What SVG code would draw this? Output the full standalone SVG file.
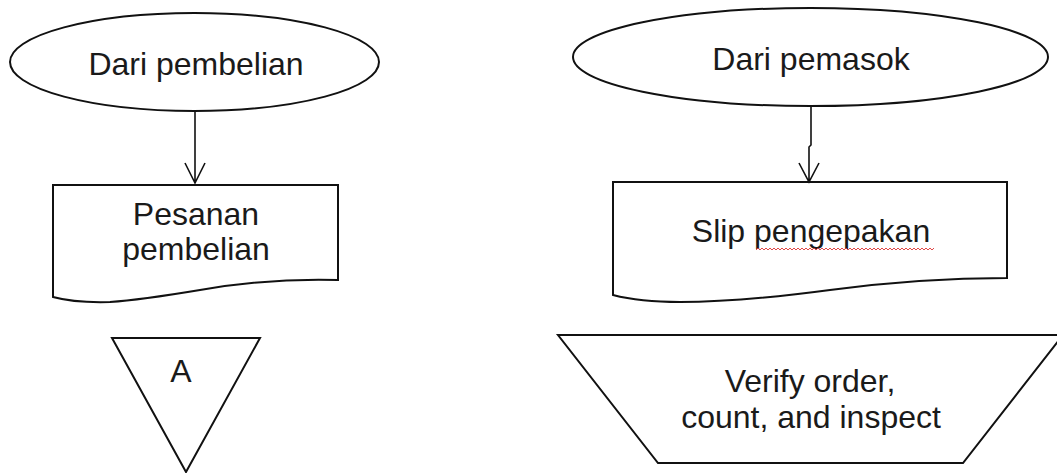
<svg xmlns="http://www.w3.org/2000/svg" width="1057" height="473" viewBox="0 0 1057 473">
<style>
.s{fill:#fff;stroke:#111;stroke-width:2}
.t{font-family:"Liberation Sans",Arial,sans-serif;font-size:32px;fill:#1a1a1a;text-anchor:middle}
.c{fill:none;stroke:#111;stroke-width:1.6}
</style>
<rect width="1057" height="473" fill="#fff"/>
<g id="dari-pembelian">
<ellipse class="s" cx="194.5" cy="62" rx="184.5" ry="49"/>
<text class="t" x="196" y="75">Dari pembelian</text>
</g>
<g id="pesanan-pembelian">
<path class="s" d="M53,185 H338 V280 Q270,278 200,290 Q140,300 110,302 Q75,303 53,297 Z"/>
<text class="t" x="196" y="225">Pesanan</text>
<text class="t" x="196" y="260">pembelian</text>
</g>
<g id="connector-a">
<path class="s" d="M112,338 H260 L186,472 Z"/>
<text class="t" x="181" y="382">A</text>
</g>
<g id="dari-pemasok">
<ellipse class="s" cx="810.5" cy="57" rx="237.5" ry="49"/>
<text class="t" x="811" y="70">Dari pemasok</text>
</g>
<g id="slip-pengepakan">
<path class="s" d="M613,182 H1007 V278 Q920,278 830,290 Q740,302 680,302 Q640,302 613,295 Z"/>
<text class="t" x="811" y="242">Slip pengepakan</text>
<path d="M756,250 l2,-2 l2,2 l2,-2 l2,2 l2,-2 l2,2 l2,-2 l2,2 l2,-2 l2,2 l2,-2 l2,2 l2,-2 l2,2 l2,-2 l2,2 l2,-2 l2,2 l2,-2 l2,2 l2,-2 l2,2 l2,-2 l2,2 l2,-2 l2,2 l2,-2 l2,2 l2,-2 l2,2 l2,-2 l2,2 l2,-2 l2,2 l2,-2 l2,2 l2,-2 l2,2 l2,-2 l2,2 l2,-2 l2,2 l2,-2 l2,2 l2,-2 l2,2 l2,-2 l2,2 l2,-2 l2,2 l2,-2 l2,2 l2,-2 l2,2 l2,-2 l2,2 l2,-2 l2,2 l2,-2 l2,2 l2,-2 l2,2 l2,-2 l2,2 l2,-2 l2,2 l2,-2 l2,2 l2,-2 l2,2 l2,-2 l2,2 l2,-2 l2,2 l2,-2 l2,2 l2,-2 l2,2 l2,-2 l2,2 l2,-2 l2,2 l2,-2 l2,2 l2,-2 l2,2 l2,-2 l2,2 l2,-2" fill="none" stroke="#d33" stroke-width="0.9"/>
</g>
<g id="verify-order">
<path class="s" d="M558,335 H1063 L963,463 H658 Z"/>
<text class="t" x="810" y="392">Verify order,</text>
<text class="t" x="811" y="428">count, and inspect</text>
</g>
<g id="connectors">
<path class="c" d="M195,111 V183 M185,163 L195,183 L205,163"/>
<path class="c" d="M811,106 V145 L809,147 V182 M799,163 L809,182 L819,163"/>
</g>
</svg>
